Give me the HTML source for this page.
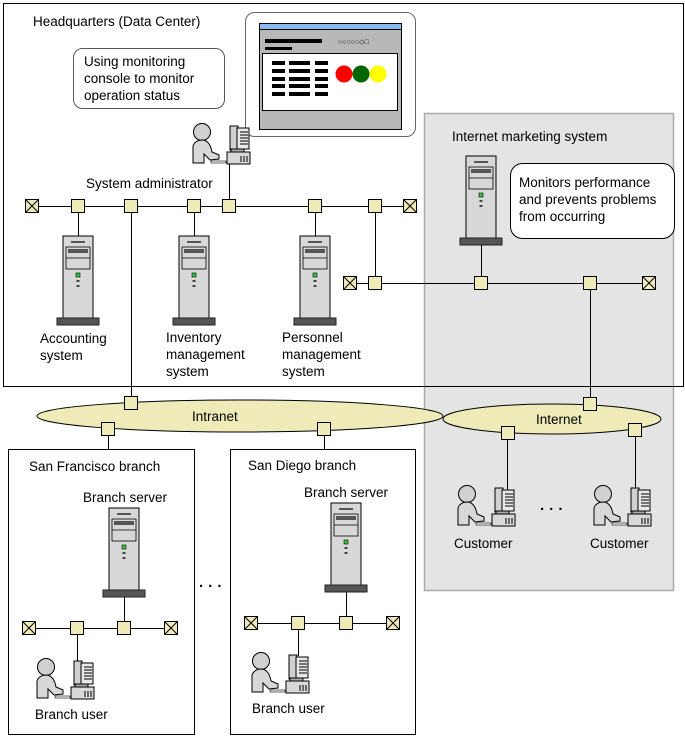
<!DOCTYPE html>
<html><head><meta charset="utf-8"><style>
html,body{margin:0;padding:0;background:#fff}
svg{display:block}
text{font-family:"Liberation Sans",sans-serif;font-size:13.5px;fill:#000}
</style></head><body>
<svg width="685" height="738" viewBox="0 0 685 738" xmlns="http://www.w3.org/2000/svg">
<defs>
<g id="srv">
<rect x="-15" y="0" width="30" height="82" fill="#d8d8d8" stroke="#000"/>
<rect x="-7" y="5" width="14" height="2" fill="#555"/>
<rect x="-12" y="11" width="24" height="22" fill="#d8d8d8" stroke="#000" stroke-width="0.8"/>
<rect x="-10" y="13" width="20" height="4" fill="#555"/>
<line x1="-12" y1="22" x2="12" y2="22" stroke="#000" stroke-width="0.8"/>
<rect x="-2" y="37" width="4" height="4" fill="#3c3" stroke="#000" stroke-width="0.6"/>
<rect x="-1.5" y="44" width="3" height="2" fill="#444"/>
<rect x="-1.5" y="49" width="3" height="2" fill="#444"/>
<rect x="-21" y="82" width="42" height="7" fill="#555" stroke="#222"/>
</g>
<g id="usr">
<circle cx="12" cy="9" r="8.5" fill="#d0d0d0" stroke="#000"/>
<path d="M3 40 L3 23 Q5 17 13 17 Q20 18 22 29 L29 32 L29 36 L20 37 L14 31 L14 40 Z" fill="#d8d8d8" stroke="#000"/>
<rect x="40" y="3" width="8" height="24" fill="#d0d0d0" stroke="#000"/>
<rect x="47" y="5" width="12" height="21" fill="#e8e8e8" stroke="#000"/>
<line x1="50" y1="9" x2="58" y2="9" stroke="#000"/><line x1="50" y1="12" x2="58" y2="12" stroke="#000"/><line x1="50" y1="15" x2="58" y2="15" stroke="#000"/><line x1="50" y1="18" x2="58" y2="18" stroke="#000"/><line x1="50" y1="21" x2="58" y2="21" stroke="#000"/>
<rect x="37" y="29" width="23" height="12" fill="#d8d8d8" stroke="#000"/>
<rect x="41" y="26" width="13" height="3" fill="#aaa" stroke="#000"/>
<line x1="51" y1="33" x2="51" y2="39" stroke="#000"/><line x1="54" y1="33" x2="54" y2="39" stroke="#000"/><line x1="57" y1="33" x2="57" y2="39" stroke="#000"/>
<rect x="21" y="38" width="15" height="2" fill="#fff" stroke="#000" stroke-width="0.6"/>
</g>
<g id="nd"><rect x="-6.5" y="-6.5" width="13" height="13" fill="#eeebb8" stroke="#000"/></g>
<g id="tm"><rect x="-6.5" y="-6.5" width="13" height="13" fill="#eeebb8" stroke="#000"/><path d="M-6.5 -6.5L6.5 6.5M6.5 -6.5L-6.5 6.5" stroke="#000"/></g>
</defs>

<rect x="3.5" y="3.5" width="680" height="383" fill="#fff" stroke="#000"/>
<rect x="424.5" y="113.5" width="249" height="477" fill="#e4e4e4" stroke="#aaa" stroke-width="1.5"/>
<line x1="424" y1="386.5" x2="684" y2="386.5" stroke="#000"/>
<line x1="683.5" y1="3" x2="683.5" y2="387" stroke="#000"/>

<text x="33" y="26">Headquarters (Data Center)</text>
<rect x="73.5" y="48.5" width="151" height="60" rx="9" fill="#fff" stroke="#555"/>
<text x="84" y="66">Using monitoring</text>
<text x="84" y="83">console to monitor</text>
<text x="84" y="100">operation status</text>

<rect x="245.5" y="12.5" width="170" height="124" rx="9" fill="#fff" stroke="#666"/>
<rect x="259.5" y="23.5" width="142" height="106" fill="#b8b8b8" stroke="#000"/>
<rect x="260" y="24" width="141" height="5" fill="#8ab8f0"/>
<line x1="260" y1="29.5" x2="401" y2="29.5" stroke="#000"/>
<rect x="265" y="39" width="57" height="4" fill="#000"/>
<rect x="265" y="47" width="27" height="3" fill="#000"/>
<text x="338" y="44" style="font-size:7px">○○○○○◇□</text>
<rect x="262.5" y="53.5" width="135" height="57" fill="#fff" stroke="#000"/>
<g fill="#000">
<rect x="272" y="61" width="13" height="4"/><rect x="289" y="61" width="21" height="4"/><rect x="315" y="61" width="13" height="4"/>
<rect x="272" y="69" width="13" height="4"/><rect x="289" y="69" width="21" height="4"/><rect x="315" y="69" width="13" height="4"/>
<rect x="272" y="77" width="13" height="4"/><rect x="289" y="77" width="21" height="4"/><rect x="315" y="77" width="13" height="4"/>
<rect x="272" y="84" width="13" height="4"/><rect x="289" y="84" width="21" height="4"/><rect x="315" y="84" width="13" height="4"/>
<rect x="272" y="92" width="13" height="4"/><rect x="289" y="92" width="21" height="4"/><rect x="315" y="92" width="13" height="4"/>
</g>
<circle cx="344" cy="74" r="8.5" fill="#f00"/>
<circle cx="361" cy="74" r="8.5" fill="#060"/>
<circle cx="378" cy="74" r="8.5" fill="#ff0"/>

<use href="#usr" x="190" y="123"/>
<line x1="229.5" y1="164" x2="229.5" y2="206" stroke="#000"/>
<text x="86" y="188">System administrator</text>

<line x1="32" y1="206.5" x2="410" y2="206.5" stroke="#000"/>
<line x1="78.5" y1="206" x2="78.5" y2="236" stroke="#000"/>
<line x1="194.5" y1="206" x2="194.5" y2="236" stroke="#000"/>
<line x1="315.5" y1="206" x2="315.5" y2="236" stroke="#000"/>
<line x1="375.5" y1="206" x2="375.5" y2="283" stroke="#000"/>
<line x1="131.5" y1="206" x2="131.5" y2="403" stroke="#000"/>
<use href="#tm" x="32" y="206"/><use href="#nd" x="78" y="206"/><use href="#nd" x="131" y="206"/><use href="#nd" x="194" y="206"/><use href="#nd" x="229" y="206"/><use href="#nd" x="315" y="206"/><use href="#nd" x="375" y="206"/><use href="#tm" x="410" y="206"/>

<use href="#srv" x="78" y="236"/>
<use href="#srv" x="194" y="236"/>
<use href="#srv" x="315" y="236"/>
<text x="40" y="343">Accounting</text><text x="40" y="360">system</text>
<text x="166" y="342">Inventory</text><text x="166" y="359">management</text><text x="166" y="376">system</text>
<text x="282" y="342">Personnel</text><text x="282" y="359">management</text><text x="282" y="376">system</text>

<text x="452" y="141">Internet marketing system</text>
<use href="#srv" x="481" y="156"/>
<rect x="510.5" y="163.5" width="164" height="75" rx="12" fill="#fff" stroke="#000"/>
<text x="519" y="187">Monitors performance</text>
<text x="519" y="204">and prevents problems</text>
<text x="519" y="221">from occurring</text>
<line x1="350" y1="283.5" x2="649" y2="283.5" stroke="#000"/>
<line x1="481.5" y1="245" x2="481.5" y2="283" stroke="#000"/>
<line x1="590.5" y1="283" x2="590.5" y2="404" stroke="#000"/>
<use href="#tm" x="350" y="283"/><use href="#nd" x="375" y="283"/><use href="#nd" x="481" y="283"/><use href="#nd" x="590" y="283"/><use href="#tm" x="649" y="283"/>

<ellipse cx="240" cy="416" rx="203" ry="16" fill="#eeebb8" stroke="#000"/>
<text x="192" y="421">Intranet</text>
<line x1="108.5" y1="429" x2="108.5" y2="449" stroke="#000"/>
<line x1="324.5" y1="429" x2="324.5" y2="449" stroke="#000"/>
<use href="#nd" x="131" y="403"/><use href="#nd" x="108" y="429"/><use href="#nd" x="324" y="429"/>

<ellipse cx="552" cy="419" rx="109" ry="15" fill="#eeebb8" stroke="#000"/>
<text x="536" y="424">Internet</text>
<line x1="507.5" y1="433" x2="507.5" y2="490" stroke="#000"/>
<line x1="635.5" y1="430" x2="635.5" y2="490" stroke="#000"/>
<use href="#nd" x="590" y="404"/><use href="#nd" x="508" y="433"/><use href="#nd" x="635" y="430"/>
<use href="#usr" x="455" y="485"/>
<use href="#usr" x="591" y="485"/>
<text x="540" y="514" style="font-size:15px;font-weight:bold">·   ·   ·</text>
<text x="454" y="548">Customer</text>
<text x="590" y="548">Customer</text>

<rect x="8.5" y="449.5" width="186" height="285" fill="#fff" stroke="#000"/>
<text x="29" y="471">San Francisco branch</text>
<text x="83" y="502">Branch server</text>
<use href="#srv" x="124" y="508"/>
<line x1="29" y1="628.5" x2="171" y2="628.5" stroke="#000"/>
<line x1="124.5" y1="597" x2="124.5" y2="628" stroke="#000"/>
<line x1="77.5" y1="628" x2="77.5" y2="662" stroke="#000"/>
<use href="#tm" x="29" y="628"/><use href="#nd" x="77" y="628"/><use href="#nd" x="124" y="628"/><use href="#tm" x="171" y="628"/>
<use href="#usr" x="34" y="658"/>
<text x="35" y="719">Branch user</text>

<text x="199" y="591" style="font-size:15px;font-weight:bold">·  ·  ·</text>

<rect x="230.5" y="449.5" width="185" height="285" fill="#fff" stroke="#000"/>
<text x="248" y="470">San Diego branch</text>
<text x="304" y="497">Branch server</text>
<use href="#srv" x="346" y="503"/>
<line x1="251" y1="623.5" x2="393" y2="623.5" stroke="#000"/>
<line x1="346.5" y1="592" x2="346.5" y2="623" stroke="#000"/>
<line x1="298.5" y1="623" x2="298.5" y2="656" stroke="#000"/>
<use href="#tm" x="251" y="623"/><use href="#nd" x="298" y="623"/><use href="#nd" x="346" y="623"/><use href="#tm" x="393" y="623"/>
<use href="#usr" x="249" y="652"/>
<text x="252" y="713">Branch user</text>
</svg>
</body></html>
